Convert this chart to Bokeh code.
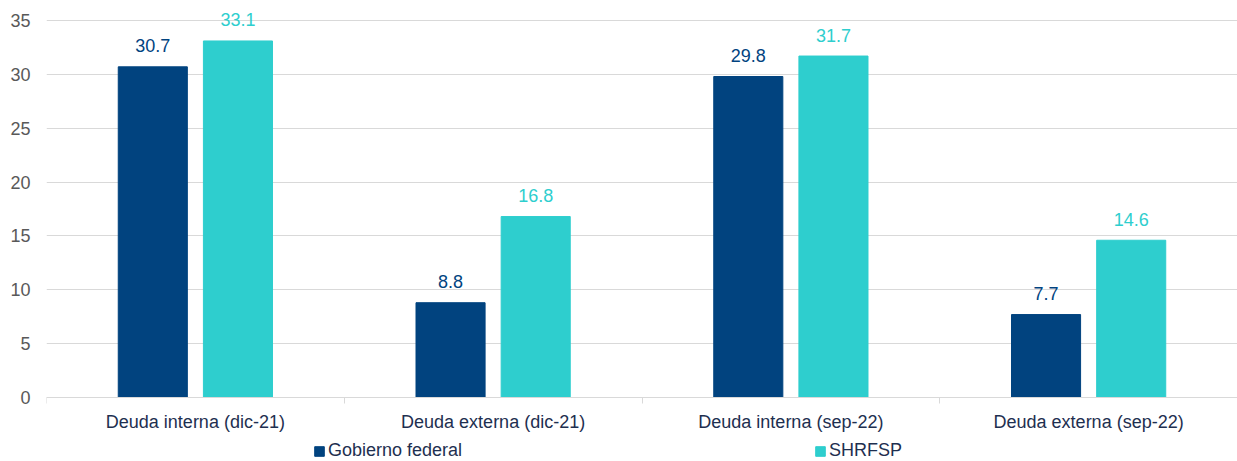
import numpy as np
from bokeh.plotting import figure
from bokeh.models import ColumnDataSource, FixedTicker, Legend, LegendItem, Range1d
from bokeh.core.properties import value
from bokeh.embed import file_html
from bokeh.resources import INLINE

categories = ["Deuda interna (dic-21)", "Deuda externa (dic-21)",
              "Deuda interna (sep-22)", "Deuda externa (sep-22)"]
gobierno_federal = [30.7, 8.8, 29.8, 7.7]
shrfsp = [33.1, 16.8, 31.7, 14.6]
y_ticks = [0, 5, 10, 15, 20, 25, 30, 35]

C_DARK = "#01437f"
C_TEAL = "#2ecece"
FONT = "Liberation Sans"
FS = "18px"

n = len(categories)
centers = np.arange(n) + 0.5
off = 0.143
bw = 0.232

# frame fills the whole height; y=35 sits 20px below the top, y=0 64px above the bottom
px_per_unit = 377 / 35
y_low = -64 / px_per_unit
y_high = 35 + 20 / px_per_unit

src1 = ColumnDataSource(dict(x=centers - off, y=gobierno_federal,
                             lab=[f"{v:.1f}" for v in gobierno_federal]))
src2 = ColumnDataSource(dict(x=centers + off, y=shrfsp,
                             lab=[f"{v:.1f}" for v in shrfsp]))

p = figure(width=1237, height=461, output_backend="svg", toolbar_location=None,
           x_range=Range1d(0, n), y_range=Range1d(y_low, y_high),
           min_border_left=46, min_border_right=0, min_border_top=0,
           min_border_bottom=0)
p.outline_line_color = None

r1 = p.vbar(x="x", top="y", width=bw, source=src1, color=C_DARK)
r2 = p.vbar(x="x", top="y", width=bw, source=src2, color=C_TEAL)

p.text(x="x", y="y", text="lab", source=src1, text_align="center",
       text_baseline="alphabetic", y_offset=-21, text_font=value(FONT),
       text_font_size=FS, text_color=C_DARK)
p.text(x="x", y="y", text="lab", source=src2, text_align="center",
       text_baseline="alphabetic", y_offset=-21, text_font=value(FONT),
       text_font_size=FS, text_color=C_TEAL)

# y axis
p.yaxis.ticker = FixedTicker(ticks=y_ticks)
p.yaxis.axis_line_color = None
p.yaxis.major_tick_line_color = None
p.yaxis.major_tick_out = 0
p.yaxis.minor_tick_line_color = None
p.yaxis.minor_tick_out = 0
p.yaxis.major_label_text_font = FONT
p.yaxis.major_label_text_font_size = FS
p.yaxis.major_label_text_color = "#595959"
p.yaxis.major_label_standoff = 16
p.ygrid.grid_line_color = "#d9d9d9"
p.ygrid.ticker = FixedTicker(ticks=y_ticks)
p.xgrid.grid_line_color = None

# x axis at y = 0
p.xaxis.fixed_location = 0
p.xaxis.ticker = FixedTicker(ticks=list(centers), minor_ticks=list(np.arange(n + 1)))
p.xaxis.major_label_overrides = {float(c): cat for c, cat in zip(centers, categories)}
p.xaxis.axis_line_color = "#d9d9d9"
p.xaxis.major_tick_line_color = None
p.xaxis.major_tick_out = 0
p.xaxis.minor_tick_line_color = "#d9d9d9"
p.xaxis.minor_tick_in = 0
p.xaxis.minor_tick_out = 6
p.xaxis.major_label_text_font = FONT
p.xaxis.major_label_text_font_size = FS
p.xaxis.major_label_text_color = "#1e2f50"
p.xaxis.major_label_standoff = 8

legend = Legend(items=[LegendItem(label="Gobierno federal", renderers=[r1]),
                       LegendItem(label="SHRFSP", renderers=[r2])],
                orientation="horizontal", location=(267, 0),
                spacing=352, padding=0, margin=0,
                glyph_width=12, glyph_height=12, label_standoff=3,
                label_text_font=FONT, label_text_font_size=FS,
                label_text_color="#1e2f50", label_height=12,
                border_line_color=None, background_fill_alpha=0)
p.add_layout(legend, "center")

open("out.html", "w").write(file_html(p, INLINE))
